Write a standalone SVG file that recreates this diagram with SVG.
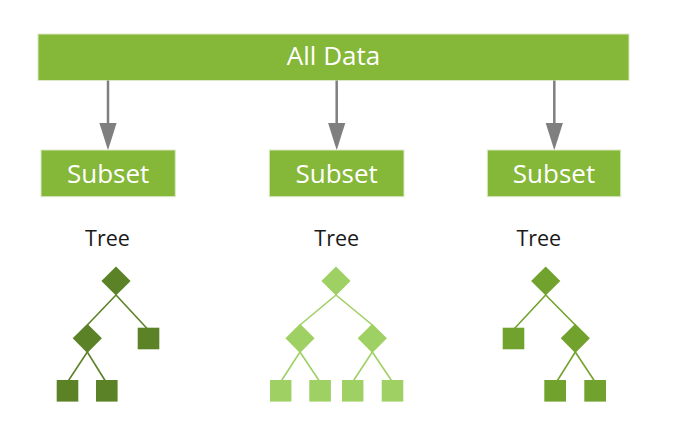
<svg xmlns="http://www.w3.org/2000/svg" width="676" height="430" viewBox="0 0 676 430">
<defs>
<style>
.box{fill:#85b738;stroke:#dbe9c8;stroke-width:1}
.lbl{font-family:"Open Sans","Noto Sans",sans-serif;font-size:26px;fill:#ffffff;text-anchor:middle}
.tree{font-family:"Open Sans","Noto Sans",sans-serif;font-size:21.5px;fill:#1a1a1a;text-anchor:middle}
.arr{stroke:#7f7f7f;stroke-width:2.5;fill:none}
.t1{fill:#5b8226}
.t1l{stroke:#5b8226;stroke-width:1.6}
.t2{fill:#9fd063}
.t2l{stroke:#9fd063;stroke-width:1.6}
.t3{fill:#72a22e}
.t3l{stroke:#72a22e;stroke-width:1.6}
</style>
<marker id="ah" markerUnits="userSpaceOnUse" markerWidth="28" markerHeight="18" refX="2.5" refY="9" orient="auto" viewBox="0 0 28 18">
<polygon points="0,0.3 0,17.7 27.5,9" fill="#7f7f7f"/>
</marker>
</defs>

<g id="all-data">
<rect class="box" x="38" y="34" width="591" height="46.5"/>
<text class="lbl" x="333.5" y="65">All Data</text>
</g>

<g id="connectors">
<line class="arr" x1="108" y1="80.5" x2="108" y2="125.2" marker-end="url(#ah)"/>
<line class="arr" x1="336.7" y1="80.5" x2="336.7" y2="125.2" marker-end="url(#ah)"/>
<line class="arr" x1="554.3" y1="80.5" x2="554.3" y2="125.2" marker-end="url(#ah)"/>
</g>

<g id="subset1">
<rect class="box" x="41" y="150" width="134.3" height="46.7"/>
<text class="lbl" x="108.2" y="183">Subset</text>
</g>
<g id="subset2">
<rect class="box" x="269.3" y="150" width="134.7" height="46.7"/>
<text class="lbl" x="336.7" y="183">Subset</text>
</g>
<g id="subset3">
<rect class="box" x="487.3" y="150" width="133.4" height="46.7"/>
<text class="lbl" x="554" y="183">Subset</text>
</g>

<g id="tree1">
<text class="tree" x="107.5" y="246">Tree</text>
<line class="t1l" x1="116" y1="295" x2="87.3" y2="325"/>
<line class="t1l" x1="116" y1="295" x2="147.5" y2="329"/>
<line class="t1l" x1="87.3" y1="352" x2="67.5" y2="382"/>
<line class="t1l" x1="87.3" y1="352" x2="106" y2="382"/>
<polygon class="t1" points="116,266.4 130.6,281 116,295.6 101.4,281"/>
<polygon class="t1" points="87.3,323.7 101.9,338.3 87.3,352.9 72.7,338.3"/>
<rect class="t1" x="137.7" y="327.7" width="21.6" height="21.6"/>
<rect class="t1" x="56.7" y="380" width="21.6" height="21.6"/>
<rect class="t1" x="96" y="380" width="21.6" height="21.6"/>
</g>

<g id="tree2">
<text class="tree" x="336.7" y="246">Tree</text>
<line class="t2l" x1="336" y1="295" x2="300" y2="325"/>
<line class="t2l" x1="336" y1="295" x2="372.3" y2="325"/>
<line class="t2l" x1="300" y1="352" x2="280.6" y2="382"/>
<line class="t2l" x1="300" y1="352" x2="320" y2="382"/>
<line class="t2l" x1="372.3" y1="352" x2="352.6" y2="382"/>
<line class="t2l" x1="372.3" y1="352" x2="392.5" y2="382"/>
<polygon class="t2" points="336,266.4 350.6,281 336,295.6 321.4,281"/>
<polygon class="t2" points="300,323.7 314.6,338.3 300,352.9 285.4,338.3"/>
<polygon class="t2" points="372.3,323.7 386.9,338.3 372.3,352.9 357.7,338.3"/>
<rect class="t2" x="270" y="380" width="21.4" height="21.6"/>
<rect class="t2" x="309.3" y="380" width="21.6" height="21.6"/>
<rect class="t2" x="342" y="380" width="21.4" height="21.6"/>
<rect class="t2" x="381.7" y="380" width="21.6" height="21.6"/>
</g>

<g id="tree3">
<text class="tree" x="538.8" y="246">Tree</text>
<line class="t3l" x1="545.7" y1="295" x2="514" y2="329"/>
<line class="t3l" x1="545.7" y1="295" x2="575.3" y2="325"/>
<line class="t3l" x1="575.3" y1="352" x2="554" y2="386"/>
<line class="t3l" x1="575.3" y1="352" x2="596.5" y2="384"/>
<polygon class="t3" points="545.7,266.4 560.3,281 545.7,295.6 531.1,281"/>
<polygon class="t3" points="575.3,323.7 589.9,338.3 575.3,352.9 560.7,338.3"/>
<rect class="t3" x="502.7" y="327.7" width="21.6" height="21.6"/>
<rect class="t3" x="544.3" y="380" width="21.7" height="21.6"/>
<rect class="t3" x="584.3" y="380" width="21.7" height="21.6"/>
</g>
</svg>
